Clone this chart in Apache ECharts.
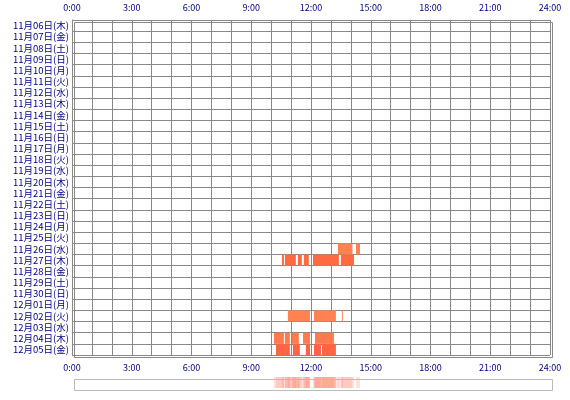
<!DOCTYPE html>
<html><head><meta charset="utf-8">
<script src="https://cdn.jsdelivr.net/npm/echarts@6/dist/echarts.min.js"></script>
<style>html,body{margin:0;padding:0;background:#fff}#main{width:570px;height:400px}</style>
</head><body><div id="main"></div>
<script>
// 日付ラベル
var days = ['11月06日(木)','11月07日(金)','11月08日(土)','11月09日(日)','11月10日(月)','11月11日(火)','11月12日(水)',
  '11月13日(木)','11月14日(金)','11月15日(土)','11月16日(日)','11月17日(月)','11月18日(火)','11月19日(水)',
  '11月20日(木)','11月21日(金)','11月22日(土)','11月23日(日)','11月24日(月)','11月25日(火)','11月26日(水)',
  '11月27日(木)','11月28日(金)','11月29日(土)','11月30日(日)','12月01日(月)','12月02日(火)','12月03日(水)',
  '12月04日(木)','12月05日(金)'];
// 活動区間 [行, 開始, 終了] (時)
var seg26 = [[20,13.35,14.08],[20,14.26,14.46]];
var seg27 = [[21,10.54,10.64],[21,10.69,11.24],[21,11.34,11.54],[21,11.64,11.89],[21,12.1,13.4],[21,13.5,14.16]];
var seg1202 = [[26,10.84,11.95],[26,12.15,13.25],[26,13.55,13.6]];
var seg1204 = [[28,10.14,10.64],[28,10.69,10.94],[28,11.04,11.39],[28,11.6,11.95],[28,12.2,13.15]];
var seg1205 = [[29,10.24,10.94],[29,11.09,11.44],[29,11.74,11.95],[29,12.15,12.5],[29,12.55,13.25]];
var tickLabels = ['0:00','3:00','6:00','9:00','12:00','15:00','18:00','21:00','24:00'];

var segs = [].concat(seg26, seg27, seg1202, seg1204, seg1205);
var colors = {20:'#ff8250',21:'#ff6a42',26:'#ff8250',28:'#ff7a4c',29:'#ff6444'};

function fmt(v){ return v % 3 === 0 ? tickLabels[v/3] : ''; }
var lab = {color:'#000080', fontSize:9, fontFamily:'Noto Sans CJK JP', formatter: fmt, interval: 0};

function render(params, api){
  var y = api.value(0), s = api.value(1), e = api.value(2);
  var p1 = api.coord([s, y]), p2 = api.coord([e, y]);
  var h = api.size([0, 1])[1];
  return {type:'rect', shape:{x:p1[0], y:p1[1]-h/2, width:p2[0]-p1[0], height:h},
    style: api.style()};
}

var myChart = echarts.init(document.getElementById('main'));
var option = {
  animation:false,
  grid:[{left:72, right:20, top:20, bottom:45},{left:72, right:20, top:377, height:11}],
  xAxis:[
    {gridIndex:0, type:'value', min:0, max:24, interval:1, position:'bottom',
     axisLine:{show:false}, axisTick:{show:false}, axisLabel:lab,
     splitLine:{lineStyle:{color:'#888', width:1}}},
    {gridIndex:0, type:'value', min:0, max:24, interval:1, position:'top',
     axisLine:{show:false}, axisTick:{show:false}, axisLabel:lab, splitLine:{show:false}},
    {gridIndex:1, type:'value', min:0, max:24, axisLabel:{show:false}, axisLine:{show:false},
     axisTick:{show:false}, splitLine:{show:false}}
  ],
  yAxis:[
    {gridIndex:0, type:'category', data:days, inverse:true,
     axisLine:{lineStyle:{color:'#888'}}, axisTick:{show:false},
     axisLabel:{color:'#000080', fontSize:9.5, fontFamily:'Noto Sans CJK JP', margin:3, interval:0},
     splitLine:{show:true, interval:0, lineStyle:{color:'#888'}}},
    {gridIndex:1, type:'category', data:['all'], show:false}
  ],
  series:[
    {type:'custom', xAxisIndex:0, yAxisIndex:0, renderItem:render, encode:{x:[1,2], y:0},
     data: segs.map(function(d){ return {value:d, itemStyle:{color:colors[d[0]]}}; }), z:1},
    {type:'custom', xAxisIndex:2, yAxisIndex:1, renderItem:render, encode:{x:[1,2], y:0},
     data: segs.map(function(d){ return [0, d[1], d[2]]; }), itemStyle:{color:'#ff7050', opacity:0.2}},
  ],
  graphic:[
    {type:'rect', left:72, top:377, shape:{width:478, height:11}, style:{fill:'none', stroke:'#bbb', lineWidth:1}, z:10},
    {type:'rect', left:72, top:20, shape:{width:478, height:335}, style:{fill:'none', stroke:'#888', lineWidth:1}, z:10}
  ]
};
myChart.setOption(option);
</script></body></html>
